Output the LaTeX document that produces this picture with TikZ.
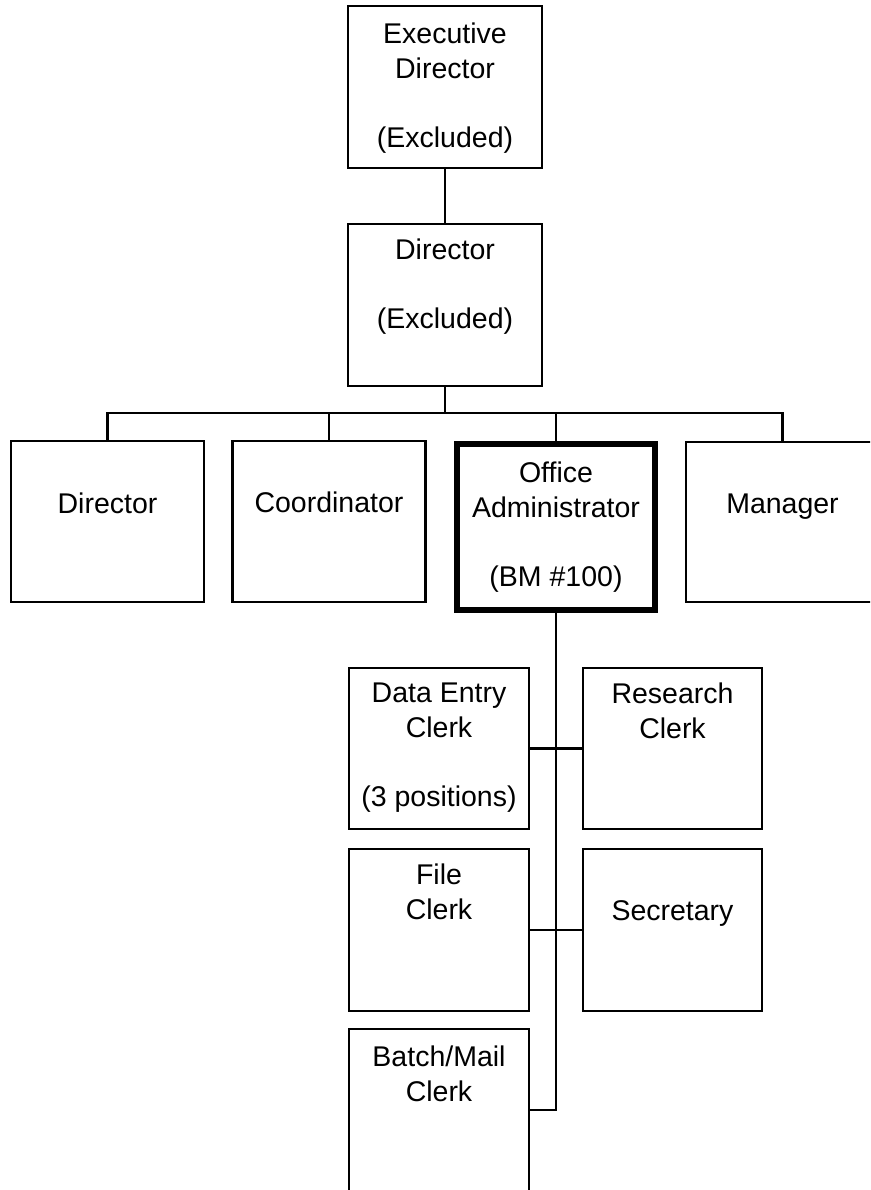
\documentclass[tikz,border=0pt]{standalone}
\usepackage{fontspec}
\setmainfont{Liberation Sans}
\begin{document}
\begin{tikzpicture}[x=1pt,y=-1pt,
  box/.style={draw=black, line width=2.2pt, rectangle, inner sep=0pt, outer sep=0pt},
  thickbox/.style={box, line width=5.5pt},
  conn/.style={draw=black, line width=2.2pt},
  lbl/.style={anchor=north, inner sep=0pt, align=center,
    font=\fontsize{28.5}{34.5}\selectfont, execute at begin node={\rule{0pt}{21pt}}}]
\useasboundingbox (0,0) rectangle (870,1190);
\clip (0,0) rectangle (870,1190);
\fill[white] (0,0) rectangle (870,1190);
% boxes
\node[box, minimum width=194pt, minimum height=162pt] (exec) at (445,87) {};
\node[box, minimum width=194pt, minimum height=162pt] (dirx) at (445,305) {};
\node[box, minimum width=193pt, minimum height=161pt] (dir2) at (107.5,521.5) {};
\node[box, minimum width=193pt, minimum height=161pt] (coord) at (329,521.5) {};
\node[thickbox, minimum width=198pt, minimum height=166pt] (oa) at (556,527) {};
\node[box, minimum width=193pt, minimum height=160pt] (mgr) at (782.5,522) {};
\node[box, minimum width=180pt, minimum height=161pt] (de) at (439,748.5) {};
\node[box, minimum width=179pt, minimum height=161pt] (rc) at (672.5,748.5) {};
\node[box, minimum width=180pt, minimum height=162pt] (fc) at (439,930) {};
\node[box, minimum width=179pt, minimum height=162pt] (sec) at (672.5,930) {};
\node[box, minimum width=180pt, minimum height=180pt] (bm) at (439,1119) {};
% labels
\node[lbl] (t-exec) at (445,23) {Executive\\Director\\[34.5pt](Excluded)};
\node[lbl] (t-dirx) at (445,239) {Director\\[34.5pt](Excluded)};
\node[lbl] (t-dir2) at (107.5,492) {Director};
\node[lbl] (t-coord) at (329,491) {Coordinator};
\node[lbl] (t-oa) at (556,462) {Office\\Administrator\\[34.5pt](BM \#100)};
\node[lbl] (t-mgr) at (782.5,492) {Manager};
\node[lbl] (t-de) at (439,683) {Data Entry\\Clerk\\[34.5pt](3 positions)};
\node[lbl] (t-rc) at (672.5,683) {Research\\Clerk};
\node[lbl] (t-fc) at (439,864) {File\\Clerk};
\node[lbl] (t-sec) at (672.5,899) {Secretary};
\node[lbl] (t-bm) at (439,1046) {Batch/Mail\\Clerk};
% connectors
\coordinate (bus) at (445,413);
\coordinate (spineend) at (556,1110);
\draw[conn] (exec.south) -- (dirx.north);
\draw[conn] (dirx.south) -- (bus);
\draw[conn] (dir2.north) -- (dir2.north |- bus) -- (mgr.north |- bus) -- (mgr.north);
\draw[conn] (coord.north) -- (coord.north |- bus);
\draw[conn] (oa.north) -- (oa.north |- bus);
\draw[conn] (oa.south) -- (spineend) -- (spineend -| bm.east);
\draw[conn] (de.east) -- (rc.west);
\draw[conn] (fc.east) -- (sec.west);
\end{tikzpicture}
\end{document}
